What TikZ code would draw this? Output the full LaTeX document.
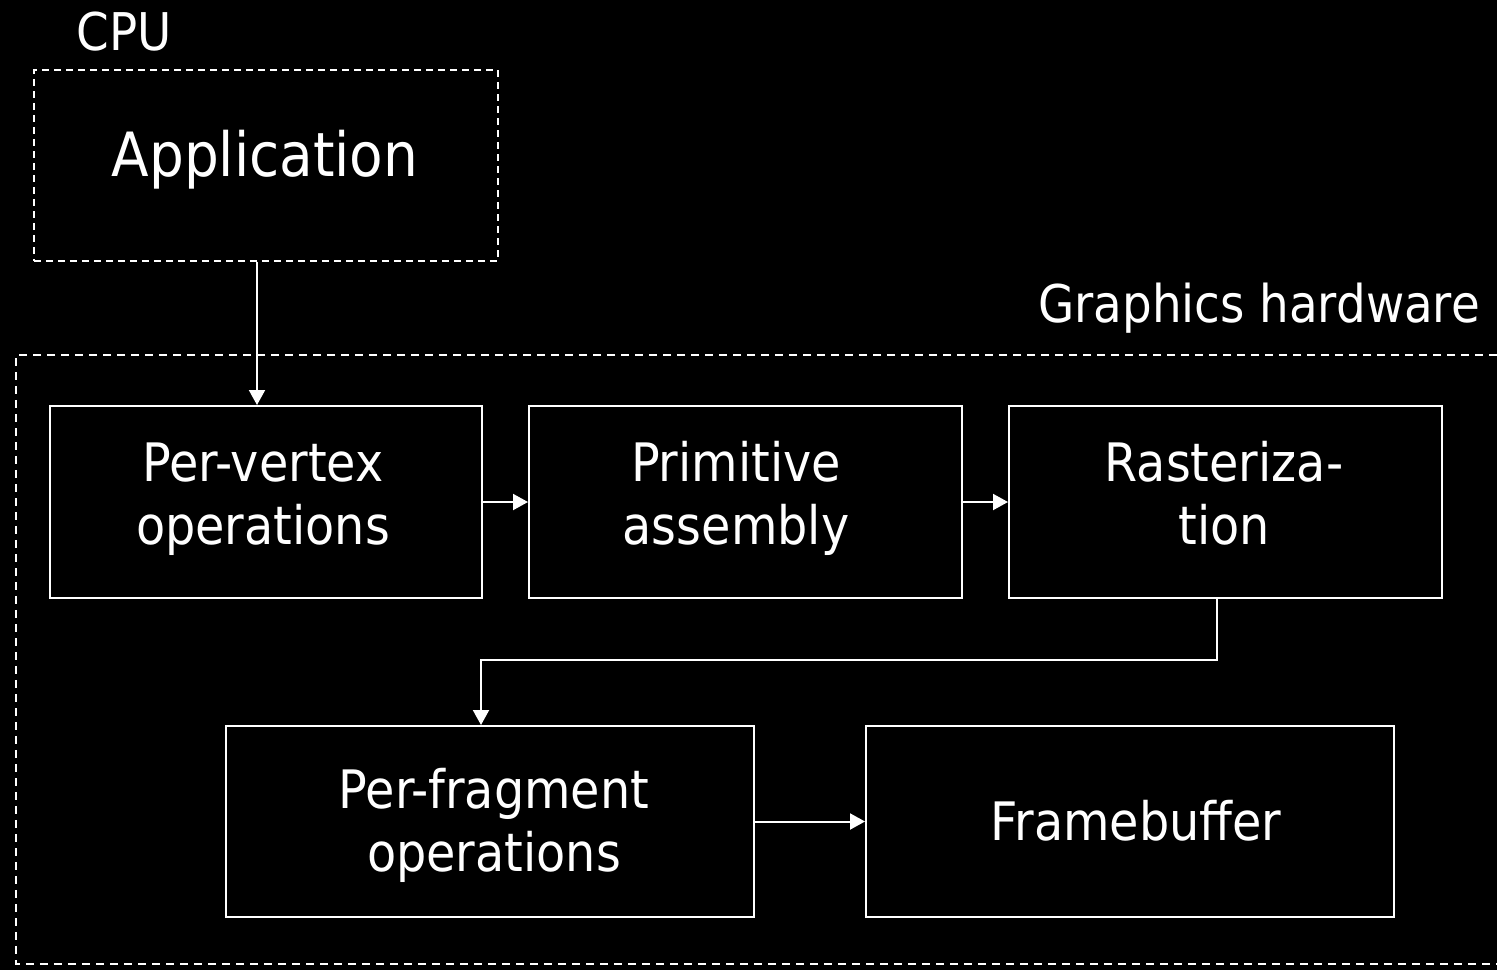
\documentclass[tikz,border=0pt]{standalone}
\usepackage{fontspec}
\setmainfont{DejaVu Sans Condensed}
\usetikzlibrary{arrows.meta}
% fixed first-line height so every caption starts at the same baseline
\newcommand\capstrut{\rule{0pt}{42pt}}
\tikzset{
  stage/.style={draw=white, line width=2pt, inner sep=0pt, anchor=north west},
  stagetext/.style={text=white, align=center, font=\fontsize{53}{63}\selectfont,
    inner sep=0pt, anchor=north},
  region/.style={draw=white, line width=2pt, dash pattern=on 8pt off 6pt},
  flow/.style={draw=white, line width=2pt, -{Triangle[length=15pt,width=16pt]}},
  label/.style={text=white, font=\fontsize{52}{60}\selectfont, inner sep=0pt, anchor=base}
}
\begin{document}
\begin{tikzpicture}[x=1pt,y=-1pt]
  \fill[black] (0,0) rectangle (1497,970);
  \useasboundingbox (0,0) rectangle (1497,970);

  % host side
  \node[label] (cpu) at (124,50) {CPU};
  \node[draw=white, line width=1.5pt, dash pattern=on 7pt off 5pt,
        minimum width=464pt, minimum height=191pt, anchor=north west, inner sep=0pt]
        (app) at (33,69) {};
  \node[text=white, font=\fontsize{61}{70}\selectfont, inner sep=0pt, anchor=base]
        (apptext) at (265,176) {Application};

  % graphics hardware region
  \node[label] (gfx) at (1259,322) {Graphics hardware};
  \coordinate (gtr) at (1497,355);
  \coordinate (gtl) at (16,355);
  \coordinate (gbl) at (16,964);
  \coordinate (gbr) at (1497,964);
  \draw[region] (gtr) -- (gtl) -- (gbl) -- (gbr);

  % pipeline stages
  \node[stage, minimum width=432pt, minimum height=192pt] (vert) at (49,405) {};
  \node[stage, minimum width=433pt, minimum height=192pt] (prim) at (528,405) {};
  \node[stage, minimum width=433pt, minimum height=192pt] (rast) at (1008,405) {};
  \node[stage, minimum width=528pt, minimum height=191pt] (frag) at (225,725) {};
  \node[stage, minimum width=528pt, minimum height=191pt] (fb) at (865,725) {};

  % stage captions
  \node[stagetext] (vertT) at (263,439) {\capstrut Per-vertex\\operations};
  \node[stagetext] (primT) at (736,439) {\capstrut Primitive\\assembly};
  \node[stagetext] (rastT) at (1224,439) {\capstrut Rasteriza-\\tion};
  \node[stagetext] (fragT) at (494,766) {\capstrut Per-fragment\\operations};
  \node[stagetext] (fbT) at (1136,798) {\capstrut Framebuffer};

  % data flow
  \draw[flow] (app.south -| 257,0) -- (vert.north -| 257,0);
  \draw[flow] (vert.east) -- (prim.west);
  \draw[flow] (prim.east) -- (rast.west);
  \coordinate (turnA) at (1217,660);
  \coordinate (turnB) at (481,660);
  \draw[flow] (rast.south -| turnA) -- (turnA) -- (turnB) -- (frag.north -| turnB);
  \draw[flow] (frag.east) -- (fb.west);
\end{tikzpicture}
\end{document}
